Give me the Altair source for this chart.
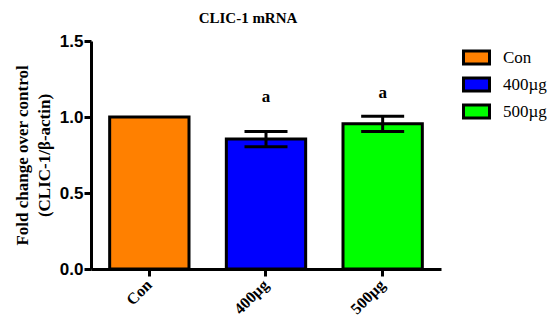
import altair as alt
import pandas as pd

groups = ["Con", "400µg", "500µg"]
means = [1.0, 0.855, 0.955]
errors = [0.0, 0.05, 0.05]
letters = ["", "a", "a"]
letter_y = [None, 1.13, 1.155]
colors = ["#FF8000", "#0000FF", "#00FF00"]
y_ticks = [0.0, 0.5, 1.0, 1.5]

df = pd.DataFrame({
    "group": groups,
    "mean": means,
    "err": errors,
    "letter": letters,
    "ly": letter_y,
})
df["lo"] = df["mean"] - df["err"]
df["hi"] = df["mean"] + df["err"]

serif = "Liberation Serif"
sans = "Liberation Sans"

x_enc = alt.X(
    "group:N",
    sort=groups,
    scale=alt.Scale(paddingInner=0.32, paddingOuter=0.16),
    axis=alt.Axis(
        title=None, labelAngle=-45, labelFont=serif, labelFontWeight="bold",
        labelFontSize=16, labelAlign="right", labelBaseline="middle", labelPadding=6,
    ),
)
y_scale = alt.Scale(domain=[0, 1.5], nice=False)

base = alt.Chart(df)

bars = base.mark_bar(stroke="black", strokeWidth=3).encode(
    x=x_enc,
    y=alt.Y(
        "mean:Q",
        scale=y_scale,
        axis=alt.Axis(
            values=y_ticks, format=".1f", labelFont=sans, labelFontWeight="bold",
            labelFontSize=17, labelPadding=1,
            title=["Fold change over control", "(CLIC-1/β-actin)"],
            titleFont=serif, titleFontWeight="bold", titleFontSize=17,
            titlePadding=6, titleLineHeight=22,
        ),
    ),
    fill=alt.Fill(
        "group:N",
        sort=groups,
        scale=alt.Scale(domain=groups, range=colors),
        legend=alt.Legend(
            title=None, orient="none", legendX=371, legendY=2,
            symbolType="M-1,-0.5H1V0.5H-1Z", symbolSize=676,
            symbolStrokeColor="black", symbolStrokeWidth=3, symbolOpacity=1,
            labelFont=serif, labelFontSize=17, labelOffset=12, rowPadding=0,
        ),
    ),
)

err = base.transform_filter("datum.err > 0")

rule = err.mark_rule(color="black", strokeWidth=3).encode(
    x=alt.X("group:N", sort=groups),
    y=alt.Y("lo:Q", scale=y_scale),
    y2="hi:Q",
)

caps = err.transform_fold(["lo", "hi"], as_=["k", "v"]).mark_tick(
    color="black", size=43, thickness=3, opacity=1
).encode(
    x=alt.X("group:N", sort=groups),
    y=alt.Y("v:Q", scale=y_scale),
)

text = err.mark_text(font=serif, fontWeight="bold", fontSize=17, color="black").encode(
    x=alt.X("group:N", sort=groups),
    y=alt.Y("ly:Q", scale=y_scale),
    text="letter:N",
)

chart = alt.layer(bars, rule, caps, text).properties(
    width=350,
    height=228,
    title=alt.TitleParams(
        "CLIC-1 mRNA", font=serif, fontSize=15, fontWeight="bold",
        color="black", dx=-18, offset=6,
    ),
    autosize=alt.AutoSizeParams(type="none"),
    padding={"left": 83, "top": 33, "right": 107, "bottom": 51},
).configure_axis(
    domainColor="black", domainWidth=3, tickColor="black", tickWidth=3,
    tickSize=7, grid=False, labelColor="black", titleColor="black",
).configure_view(stroke=None)

chart.save("out.html", embed_options={"renderer": "svg", "actions": False})
